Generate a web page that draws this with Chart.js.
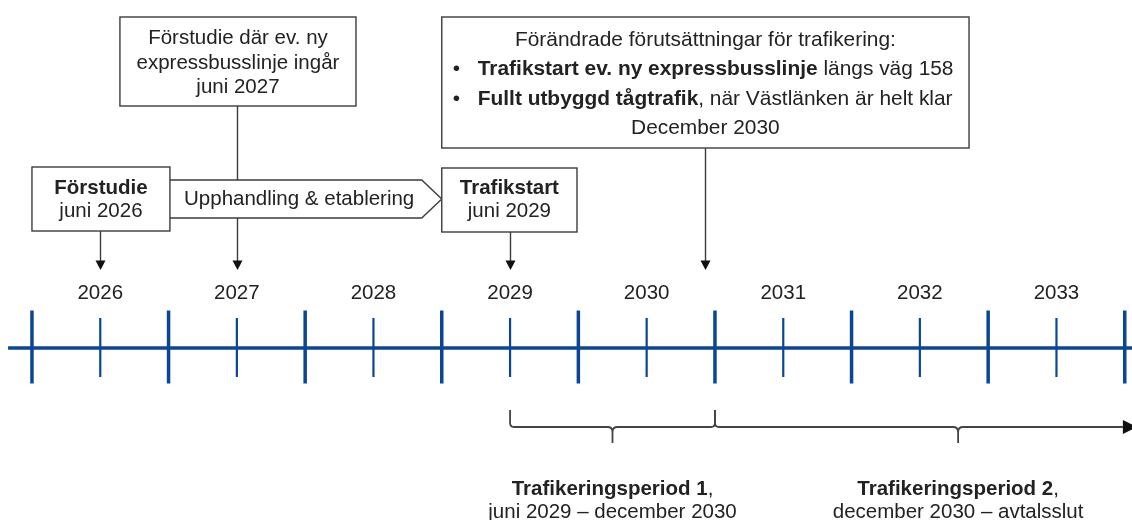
<!DOCTYPE html>
<html>
<head>
<meta charset="utf-8">
<script src="https://cdn.jsdelivr.net/npm/chart.js@4.4.1/dist/chart.umd.min.js"></script>
<style>
  html, body { margin: 0; padding: 0; background: #fff; }
  #wrap { position: relative; width: 1132px; height: 520px; }
</style>
</head>
<body>
<div id="wrap"><canvas id="timeline"></canvas></div>
<script>
// years shown on the time axis (decimal years)
const yearLabels = ['2026', '2027', '2028', '2029', '2030', '2031', '2032', '2033'];
const yearStarts = [2026, 2027, 2028, 2029, 2030, 2031, 2032, 2033, 2034];
const yearMids = [2026.5, 2027.5, 2028.5, 2029.5, 2030.5, 2031.5, 2032.5, 2033.5];

// milestones: date on the axis + text in the box ([text, bold])
const milestoneDates = [2026.5, 2027.5, 2029.5, 2030.93];
const milestoneLines = [
  [[['Förstudie', 1]], [['juni 2026', 0]]],
  [[['Förstudie där ev. ny', 0]], [['expressbusslinje ingår', 0]], [['juni 2027', 0]]],
  [[['Trafikstart', 1]], [['juni 2029', 0]]],
  [[['Förändrade förutsättningar för trafikering:', 0]],
   [['Trafikstart ev. ny expressbusslinje', 1], [' längs väg 158', 0]],
   [['Fullt utbyggd tågtrafik', 1], [', när Västlänken är helt klar', 0]],
   [['December 2030', 0]]]
];
const bulletRows = [[], [], [], [1, 2]];

// phase between förstudie and trafikstart
const phaseLabel = 'Upphandling & etablering';
const phaseFrom = 2027.0;
const phaseTo = 2029.0;

// contract periods
const periodNames = ['Trafikeringsperiod 1', 'Trafikeringsperiod 2'];
const periodRanges = ['juni 2029 – december 2030', 'december 2030 – avtalsslut'];
const periodStarts = [2029.5, 2031.0];
const periodEnds = [2031.0, 2034.03];

// ---- layout (scale units: x = years, y = rows from top) ----
const xMin = 2025.766, xMax = 2034.053;
const axisY = 348;
const arrowTipY = 270;
const boxes = [
  { x0: 2026.0, x1: 2027.01, y0: 167, y1: 231, rows: [188, 211], size: 20.5 },
  { x0: 2026.644, x1: 2028.372, y0: 17, y1: 106, rows: [38, 63, 87], size: 20.5 },
  { x0: 2029.0, x1: 2029.99, y0: 168, y1: 232, rows: [188, 211], size: 20.5 },
  { x0: 2029.0, x1: 2032.86, y0: 17, y1: 148, rows: [40, 69, 99, 128], size: 20.9 }
];
const phaseBox = { y0: 180, y1: 218, tip: 20 };
const braceY = { top: 410, mid: 427, bot: 443 };
const periodLabelX = [2030.25, 2032.78];
const periodRows = [489, 512];

const blue = '#0b4595';
const ink = '#222222';
const edge = '#3c3c3c';

function font(bold, size) {
  return (bold ? 'bold ' : '') + (size || 20.5) + 'px "Liberation Sans", Arial, sans-serif';
}

function drawParts(ctx, parts, x, y, center, size) {
  let w = 0;
  parts.forEach(p => { ctx.font = font(p[1], size); w += ctx.measureText(p[0]).width; });
  let cx = center ? x - w / 2 : x;
  ctx.textAlign = 'left';
  parts.forEach(p => {
    ctx.font = font(p[1], size);
    ctx.fillText(p[0], cx, y);
    cx += ctx.measureText(p[0]).width;
  });
}

function arrowHead(ctx, x, tipY) {
  ctx.beginPath();
  ctx.moveTo(x - 5, tipY - 9.5);
  ctx.lineTo(x + 5, tipY - 9.5);
  ctx.lineTo(x, tipY);
  ctx.closePath();
  ctx.fill();
}

const timelinePlugin = {
  id: 'timeline',
  afterDraw(chart) {
    const ctx = chart.ctx;
    const sx = chart.scales.x, sy = chart.scales.y;
    const px = v => sx.getPixelForValue(v);
    const py = v => sy.getPixelForValue(v);
    ctx.save();
    ctx.textBaseline = 'middle';

    // year labels
    ctx.fillStyle = ink;
    yearLabels.forEach((lab, i) => drawParts(ctx, [[lab, 0]], px(yearMids[i]), py(293), true));

    // connectors from boxes down to the axis
    ctx.strokeStyle = edge;
    ctx.lineWidth = 1.4;
    milestoneDates.forEach((d, i) => {
      const x = Math.round(px(d)) + 0.5;
      ctx.beginPath();
      ctx.moveTo(x, py(boxes[i].y1));
      ctx.lineTo(x, py(arrowTipY) - 8);
      ctx.stroke();
    });

    // phase arrow (pentagon)
    const pl = px(phaseFrom), pr = px(phaseTo);
    const pt = py(phaseBox.y0), pb = py(phaseBox.y1);
    ctx.beginPath();
    ctx.moveTo(pl, pt);
    ctx.lineTo(pr - phaseBox.tip, pt);
    ctx.lineTo(pr, (pt + pb) / 2);
    ctx.lineTo(pr - phaseBox.tip, pb);
    ctx.lineTo(pl, pb);
    ctx.closePath();
    ctx.fillStyle = '#fff';
    ctx.fill();
    ctx.stroke();
    ctx.fillStyle = ink;
    drawParts(ctx, [[phaseLabel, 0]], (pl + pr - phaseBox.tip) / 2 + 4, (pt + pb) / 2, true);

    // boxes
    boxes.forEach((b, i) => {
      const x0 = px(b.x0), x1 = px(b.x1), y0 = py(b.y0), y1 = py(b.y1);
      ctx.fillStyle = '#fff';
      ctx.fillRect(x0, y0, x1 - x0, y1 - y0);
      ctx.strokeRect(x0, y0, x1 - x0, y1 - y0);
      ctx.fillStyle = ink;
      milestoneLines[i].forEach((parts, r) => {
        if (bulletRows[i].includes(r)) {
          drawParts(ctx, [['•', 0]], x0 + 11, py(b.rows[r]), false, b.size);
          drawParts(ctx, parts, x0 + 36, py(b.rows[r]), false, b.size);
        } else {
          drawParts(ctx, parts, (x0 + x1) / 2, py(b.rows[r]), true, b.size);
        }
      });
    });

    // arrow heads
    ctx.fillStyle = '#111';
    milestoneDates.forEach(d => arrowHead(ctx, Math.round(px(d)) + 0.5, py(arrowTipY)));

    // braces for the contract periods
    const yT = py(braceY.top), yM = py(braceY.mid), yB = py(braceY.bot);
    ctx.strokeStyle = '#444';
    ctx.lineWidth = 1.8;
    periodStarts.forEach((s, i) => {
      const xl = px(s), xr = px(periodEnds[i]), xm = px(periodLabelX[i]);
      const open = i === periodStarts.length - 1;
      ctx.beginPath();
      ctx.moveTo(xl, yT);
      ctx.lineTo(xl, yM - 4);
      ctx.quadraticCurveTo(xl, yM, xl + 4, yM);
      ctx.lineTo(xm - 5, yM);
      ctx.quadraticCurveTo(xm, yM, xm, yM + 5);
      ctx.lineTo(xm, yB);
      ctx.moveTo(xm, yM + 5);
      ctx.quadraticCurveTo(xm, yM, xm + 5, yM);
      if (open) {
        ctx.lineTo(xr - 6, yM);
      } else {
        ctx.lineTo(xr - 4, yM);
        ctx.quadraticCurveTo(xr, yM, xr, yM - 4);
        ctx.lineTo(xr, yT);
      }
      ctx.stroke();
      if (open) {
        ctx.fillStyle = '#111';
        ctx.beginPath();
        ctx.moveTo(xr - 6, yM - 7);
        ctx.lineTo(xr + 8, yM);
        ctx.lineTo(xr - 6, yM + 7);
        ctx.closePath();
        ctx.fill();
      }
      ctx.fillStyle = ink;
      drawParts(ctx, [[periodNames[i], 1], [',', 0]], xm, py(periodRows[0]), true);
      drawParts(ctx, [[periodRanges[i], 0]], xm, py(periodRows[1]), true);
    });
    ctx.restore();
  }
};

new Chart(document.getElementById('timeline'), {
  type: 'scatter',
  data: {
    datasets: [
      {
        // the time axis line
        type: 'line',
        data: [{ x: 2025.825, y: axisY }, { x: xMax, y: axisY }],
        borderColor: blue,
        borderWidth: 3.5,
        pointRadius: 0
      },
      {
        // year boundaries
        data: yearStarts.map(v => ({ x: v, y: axisY - 1 })),
        pointStyle: 'line',
        pointRotation: 90,
        pointRadius: 36.5,
        pointBorderWidth: 3.5,
        pointBorderColor: blue,
        pointBackgroundColor: blue
      },
      {
        // mid-year ticks
        data: yearMids.map(v => ({ x: v, y: axisY - 0.5 })),
        pointStyle: 'line',
        pointRotation: 90,
        pointRadius: 29.5,
        pointBorderWidth: 2.2,
        pointBorderColor: blue,
        pointBackgroundColor: blue
      }
    ]
  },
  options: {
    responsive: true,
    maintainAspectRatio: false,
    animation: false,
    events: [],
    layout: { padding: 0, autoPadding: false },
    plugins: { legend: { display: false }, tooltip: { enabled: false } },
    scales: {
      x: { type: 'linear', min: xMin, max: xMax, display: false },
      y: { type: 'linear', min: 0, max: 520, reverse: true, display: false }
    }
  },
  plugins: [timelinePlugin]
});
</script>
</body>
</html>
